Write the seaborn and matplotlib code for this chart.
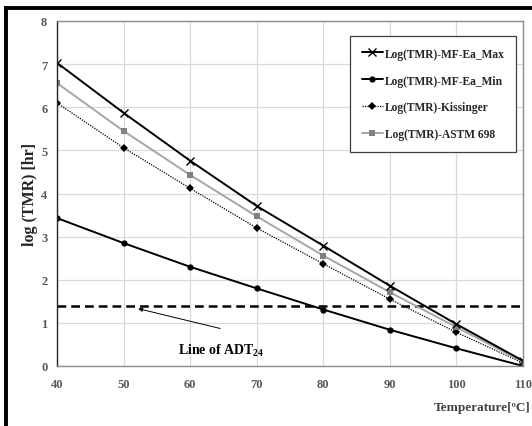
import matplotlib
matplotlib.use("Agg")
import matplotlib.pyplot as plt
import seaborn as sns
import pandas as pd
from matplotlib.patches import Rectangle

# Temperatures and log(TMR) values for each method
temperature = [40, 50, 60, 70, 80, 90, 100, 110]
tmr_max = [7.03, 5.87, 4.76, 3.71, 2.79, 1.86, 0.97, 0.12]
tmr_min = [3.43, 2.85, 2.30, 1.80, 1.31, 0.84, 0.41, 0.00]
tmr_kissinger = [6.10, 5.06, 4.12, 3.20, 2.37, 1.55, 0.78, 0.07]
tmr_astm = [6.56, 5.45, 4.43, 3.47, 2.56, 1.71, 0.90, 0.10]
adt24_level = 1.38

series_names = ["Log(TMR)-MF-Ea_Max", "Log(TMR)-MF-Ea_Min",
                "Log(TMR)-Kissinger", "Log(TMR)-ASTM 698"]
x_ticks = [40, 50, 60, 70, 80, 90, 100, 110]
y_ticks = [0, 1, 2, 3, 4, 5, 6, 7, 8]

sns.set_theme(style="white")
plt.rcParams["font.family"] = ["Liberation Serif", "DejaVu Serif"]
plt.rcParams["font.weight"] = "bold"
plt.rcParams["mathtext.fontset"] = "custom"
plt.rcParams["mathtext.rm"] = "Liberation Serif:bold"
plt.rcParams["mathtext.bf"] = "Liberation Serif:bold"
plt.rcParams["mathtext.it"] = "Liberation Serif:bold"

fig = plt.figure(figsize=(5.32, 4.27), dpi=100)
ax = fig.add_axes([57 / 532, 60 / 427, 466 / 532, 345 / 427])

styles = [
    dict(color="black", marker="x", markersize=5.5, mew=1.0, mec="black",
         linestyle="-", lw=1.4),
    dict(color="black", marker="o", markersize=4.5, mew=0, linestyle="-", lw=1.4),
    dict(color="black", marker="D", markersize=4.5, mew=0, linestyle=(0, (1, 1)), lw=0.9),
    dict(color="#a6a6a6", marker="s", markersize=5, mew=0, linestyle="-", lw=1.4,
         markerfacecolor="#808080"),
]
values = [tmr_max, tmr_min, tmr_kissinger, tmr_astm]

# draw in back-to-front order so the max curve sits on top
order = [1, 2, 3, 0]
handles = {}
for i in order:
    df = pd.DataFrame({"T": temperature, "v": values[i]})
    st = dict(styles[i])
    color = st.pop("color")
    sns.lineplot(data=df, x="T", y="v", ax=ax, color=color, label=series_names[i],
                 legend=False, **st)
    handles[i] = ax.lines[-1]

ax.axhline(adt24_level, color="black", lw=1.8, linestyle=(0, (3.5, 2)), zorder=1.5)

ax.set_xlim(40, 110)
ax.set_ylim(0, 8)
ax.set_xticks(x_ticks)
ax.set_yticks(y_ticks)
ax.grid(True, color="#d9d9d9", lw=0.9)
ax.set_axisbelow(True)

for lab in ax.get_xticklabels() + ax.get_yticklabels():
    lab.set_fontweight("bold")
    lab.set_color("#595959")
    lab.set_fontsize(9)
ax.tick_params(axis="x", length=0, pad=9)
ax.tick_params(axis="y", length=0, pad=7)

ax.spines["left"].set_color("#262626")
ax.spines["left"].set_linewidth(1.0)
for s in ["top", "right", "bottom"]:
    ax.spines[s].set_color("#8c8c8c")
    ax.spines[s].set_linewidth(1.0)

ax.set_xlabel("")
ax.set_ylabel("log (TMR) [hr]", fontsize=11.5, fontweight="bold", color="#262626")
ax.yaxis.set_label_coords((38 - 57) / 466, 0.5)

fig.text(531 / 532, 1 - 408 / 427, "Temperature[\u00baC]", ha="right", va="center",
         fontsize=9.5, fontweight="bold", color="#404040")

ax.annotate("", xy=(52.2, adt24_level - 0.05), xytext=(64.5, 0.87),
            arrowprops=dict(arrowstyle="-|>", color="black", lw=0.7,
                            mutation_scale=6, shrinkA=0, shrinkB=0))
ax.text(58.2, 0.28, "Line of ADT$_{24}$", fontsize=10, fontweight="bold",
        color="black", ha="left", va="baseline")

leg = ax.legend([handles[i] for i in range(4)], series_names,
                loc="upper left", bbox_to_anchor=((350 - 57) / 466, (367 - 37) / 345),
                frameon=True, fancybox=False, edgecolor="#404040", framealpha=1,
                fontsize=8.3, handlelength=1.9, handletextpad=0.1, labelspacing=1.3,
                borderpad=1.0, borderaxespad=0)
leg.get_frame().set_linewidth(0.9)
for t in leg.get_texts():
    t.set_fontweight("bold")

# heavy outer frame around the figure
fig.patches.append(Rectangle((6 / 532, -0.1), 1.2, 1 - 8.5 / 427 + 0.1,
                             transform=fig.transFigure, fill=False,
                             edgecolor="black", lw=2.8))

fig.savefig("out.png", dpi=100)
